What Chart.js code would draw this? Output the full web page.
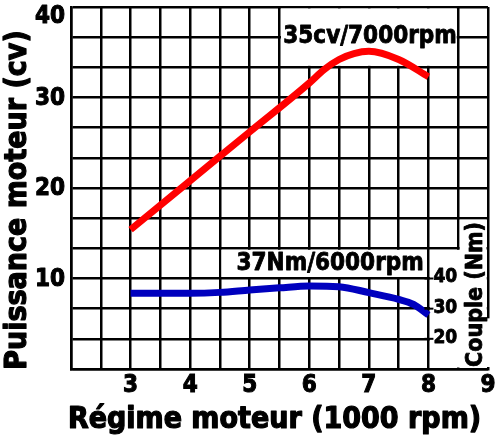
<!DOCTYPE html>
<html>
<head>
<meta charset="utf-8">
<script src="https://cdn.jsdelivr.net/npm/chart.js@4"></script>
<style>
  body { margin: 0; background: #fff; }
</style>
</head>
<body>
<canvas id="chart" width="500" height="438"></canvas>
<script>
const FONT = "'DejaVu Sans Condensed', 'DejaVu Sans', sans-serif";

// puissance (cv) en fonction du régime (1000 rpm)
const powerRpm = [3, 4, 5, 6, 6.25, 6.5, 6.75, 7, 7.5, 8];
const powerCv = [15.4, 20.8, 26.2, 31.6, 33.1, 34.2, 34.85, 35.1, 34.2, 32.3];

// couple (Nm), axe secondaire
const torqueRpm = [3, 4, 4.5, 5, 5.5, 6, 6.5, 7, 7.5, 7.75, 8];
const torqueNm = [35.1, 35.1, 35.4, 36.2, 36.9, 37.5, 37.3, 35.3, 33.1, 31.4, 27.9];

const xTickLabels = [3, 4, 5, 6, 7, 8, 9];
const yTickLabels = [10, 20, 30, 40];
const torqueTicks = [20, 30, 40];

// filled + stroked text, the reference glyphs are quite heavy
function heavyText(ctx, str, px, py, size, stroke) {
  ctx.font = 'bold ' + size + 'px ' + FONT;
  ctx.lineWidth = stroke;
  ctx.lineJoin = 'round';
  ctx.strokeText(str, px, py);
  ctx.fillText(str, px, py);
}

const overlay = {
  id: 'overlay',
  beforeDatasetsDraw(chart) {
    const { ctx, scales: { x, y } } = chart;
    // white cells under the notes
    const box = (x1, x2, y1, y2) => {
      const l = x.getPixelForValue(x1) + 1.5, r = x.getPixelForValue(x2) - 1.5;
      const t = y.getPixelForValue(y2) + 1.5, b = y.getPixelForValue(y1) - 1.5;
      ctx.fillRect(l, t, r - l, b - t);
    };
    ctx.save();
    ctx.fillStyle = '#fff';
    box(5.5, 8.5, 100 / 3, 40);
    box(4.5, 8, 10, 40 / 3);
    box(8, 9, 0, 40 / 3);
    box(8.5, 9, 0, 50 / 3);
    ctx.restore();
  },
  afterDatasetsDraw(chart) {
    const { ctx, chartArea, scales: { x, y, y2 } } = chart;
    ctx.save();
    ctx.fillStyle = '#000';
    ctx.strokeStyle = '#000';

    ctx.textAlign = 'right';
    ctx.textBaseline = 'middle';
    yTickLabels.forEach(v => {
      const py = Math.max(y.getPixelForValue(v) + 1, chartArea.top + 10);
      heavyText(ctx, String(v), chartArea.left - 6, py, 24, 1);
    });

    ctx.textAlign = 'center';
    ctx.textBaseline = 'alphabetic';
    heavyText(ctx, '35cv/7000rpm', x.getPixelForValue(7.02), y.getPixelForValue(36), 24, 0.8);
    heavyText(ctx, '37Nm/6000rpm', x.getPixelForValue(6.35), y.getPixelForValue(10.9), 24, 0.8);

    // axis titles
    heavyText(ctx, 'Régime moteur (1000 rpm)', (chartArea.left + chartArea.right) / 2 - 5, chart.height - 10, 30, 1.2);
    ctx.save();
    ctx.translate(18, (chartArea.top + chartArea.bottom) / 2 + 12);
    ctx.rotate(-Math.PI / 2);
    ctx.textBaseline = 'middle';
    heavyText(ctx, 'Puissance moteur (cv)', 0, 0, 30, 1.2);
    ctx.restore();

    // torque axis at 8000 rpm
    const ax = x.getPixelForValue(8);
    ctx.textAlign = 'left';
    ctx.textBaseline = 'middle';
    torqueTicks.forEach(v => {
      const py = y2.getPixelForValue(v);
      ctx.lineWidth = 2;
      ctx.beginPath();
      ctx.moveTo(ax - 4, py);
      ctx.lineTo(ax + 5, py);
      ctx.stroke();
      heavyText(ctx, String(v), ax + 5, py - 1, 19, 0.8);
    });

    const cx = x.getPixelForValue(9);
    const top = y.getPixelForValue(5.6);
    ctx.fillStyle = '#fff';
    ctx.fillRect(cx - 27, top, 30, chartArea.bottom - 2 - top);
    ctx.fillStyle = '#000';
    ctx.translate(cx - 6, chartArea.bottom - 2);
    ctx.rotate(-Math.PI / 2);
    ctx.textAlign = 'left';
    ctx.textBaseline = 'alphabetic';
    heavyText(ctx, 'Couple (Nm)', 0, 0, 23, 0.8);
    ctx.restore();
  }
};

new Chart(document.getElementById('chart'), {
  type: 'line',
  data: {
    datasets: [
      {
        label: 'Puissance',
        data: powerRpm.map((r, i) => ({ x: r, y: powerCv[i] })),
        borderColor: '#ff0000',
        borderWidth: 7,
        pointRadius: 0,
        cubicInterpolationMode: 'monotone',
        yAxisID: 'y'
      },
      {
        label: 'Couple',
        data: torqueRpm.map((r, i) => ({ x: r, y: torqueNm[i] })),
        borderColor: 'rgb(0,0,190)',
        borderWidth: 7,
        pointRadius: 0,
        cubicInterpolationMode: 'monotone',
        yAxisID: 'y2'
      }
    ]
  },
  options: {
    responsive: false,
    animation: false,
    layout: { padding: { top: 7, right: 12, left: 0, bottom: 0 } },
    plugins: { legend: { display: false }, tooltip: { enabled: false } },
    scales: {
      x: {
        type: 'linear',
        min: 2,
        max: 9,
        afterFit: s => { s.height = 69; },
        ticks: {
          stepSize: 0.5,
          autoSkip: false,
          maxRotation: 0,
          padding: 2,
          color: '#000',
          textStrokeColor: '#000',
          textStrokeWidth: 1,
          font: { family: FONT, size: 24, weight: 'bold' },
          callback: v => xTickLabels.includes(v) ? String(v) : ''
        },
        grid: { color: '#000', lineWidth: 2.5, drawTicks: false },
        border: { color: '#000', width: 2.5 }
      },
      y: {
        min: 0,
        max: 40,
        afterFit: s => { s.width = 71; },
        afterBuildTicks: s => {
          const t = [];
          for (let i = 0; i <= 12; i++) t.push({ value: i * 10 / 3 });
          s.ticks = t;
        },
        ticks: { display: false },
        grid: { color: '#000', lineWidth: 2.5, drawTicks: false },
        border: { color: '#000', width: 2.5 }
      },
      y2: {
        display: false,
        min: 10,
        max: 130
      }
    }
  },
  plugins: [overlay]
});
</script>
</body>
</html>
